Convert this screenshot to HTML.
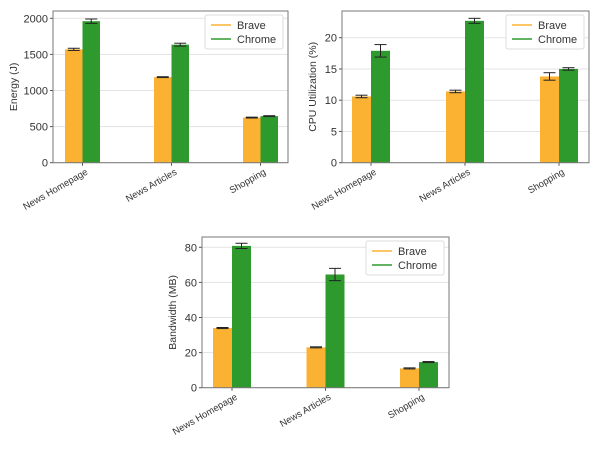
<!DOCTYPE html>
<html><head><meta charset="utf-8"><style>
html,body{margin:0;padding:0;background:#fff;width:600px;height:450px;overflow:hidden}
svg{position:absolute;left:0;top:0;font-family:"Liberation Sans",sans-serif}
</style></head><body>
<svg id="svg" width="600" height="450" viewBox="0 0 600 450"></svg>
<script>
const categories = ["News Homepage","News Articles","Shopping"];
const energyBrave = [1570,1185,625];
const energyChrome = [1960,1635,645];
const energyBraveErr = [15,6,6];
const energyChromeErr = [30,20,6];
const energyTicks = [0,500,1000,1500,2000];
const cpuBrave = [10.6,11.4,13.8];
const cpuChrome = [17.9,22.7,15.0];
const cpuBraveErr = [0.2,0.2,0.6];
const cpuChromeErr = [1.0,0.4,0.2];
const cpuTicks = [0,5,10,15,20];
const bwBrave = [34,23,11];
const bwChrome = [80.8,64.5,14.6];
const bwBraveErr = [0.3,0.3,0.3];
const bwChromeErr = [1.5,3.5,0.3];
const bwTicks = [0,20,40,60,80];
const seriesNames = ["Brave","Chrome"];

const NS="http://www.w3.org/2000/svg";
const svg=document.getElementById('svg');
function mk(tag,attrs,parent,text){const e=document.createElementNS(NS,tag);for(const k in attrs)e.setAttribute(k,attrs[k]);if(text!==undefined)e.textContent=text;parent.appendChild(e);return e;}
const COLORS=["#fbb232","#2e9a2e"];

function drawChart(cfg){
  const g=mk('g',{},svg);
  
  
  const {L,R,T,B,ymax}=cfg;
  const y=v=>B-(v/ymax)*(B-cfg.yTopRef);
  const groupX=i=>cfg.g0+i*cfg.gs;
  cfg.ticks.forEach(t=>{
    const yy=y(t);
    const gl=mk('line',{x1:L,x2:R,y1:yy,y2:yy,stroke:"#e3e3e3","stroke-width":1},g);
    
    
    mk('line',{x1:L-3,x2:L,y1:yy,y2:yy,stroke:"#555"},g);
    const tl=mk('text',{x:L-5,y:yy+4,"text-anchor":"end","font-size":11,fill:"#333"},g,String(t));
    
    
  });
  const series=[cfg.a,cfg.b], errs=[cfg.ae,cfg.be];
  categories.forEach((c,i)=>{
    series.forEach((s,j)=>{
      const x0=groupX(i)+j*cfg.bw;
      const r=mk('rect',{x:x0,y:y(s[i]),width:cfg.bw,height:B-y(s[i]),fill:COLORS[j]},g);
      
      
      const cx=x0+cfg.bw/2, e=errs[j][i];
      mk('line',{x1:cx,x2:cx,y1:y(s[i]+e),y2:y(s[i]-e),stroke:"#222","stroke-width":1},g);
      mk('line',{x1:cx-6,x2:cx+6,y1:y(s[i]+e),y2:y(s[i]+e),stroke:"#222","stroke-width":1},g);
      mk('line',{x1:cx-6,x2:cx+6,y1:y(s[i]-e),y2:y(s[i]-e),stroke:"#222","stroke-width":1},g);
    });
    const tx=groupX(i)+cfg.bw;
    mk('line',{x1:tx,x2:tx,y1:B,y2:B+3,stroke:"#555"},g);
    const lab=mk('text',{x:tx+6,y:B+11,"text-anchor":"end","font-size":9.5,fill:"#333",transform:`rotate(-30 ${tx+6} ${B+11})`},g,c);
    
    
  });
  mk('rect',{x:L,y:T,width:R-L,height:B-T,fill:"none",stroke:"#777","stroke-width":1},g);
  const yt=mk('text',{x:cfg.ytx,y:(T+B)/2,"text-anchor":"middle","font-size":10.5,fill:"#333",transform:`rotate(-90 ${cfg.ytx} ${(T+B)/2})`},g,cfg.ytitle);
  
  
  const lg=mk('g',{},g);
  
  
  const lx=R-83, ly=T+4;
  mk('rect',{x:lx,y:ly,width:78,height:34,fill:"#fff",stroke:"#ddd",rx:2},lg);
  seriesNames.forEach((n,j)=>{
    mk('line',{x1:lx+6,x2:lx+26,y1:ly+10+j*14,y2:ly+10+j*14,stroke:COLORS[j],"stroke-width":1.6},lg);
    const t=mk('text',{x:lx+32,y:ly+14+j*14,"font-size":11,fill:"#333"},lg,n);
    
    
  });
}
drawChart({name:"energy-chart",L:53,R:288,T:11,B:162.7,ymax:2000,yTopRef:18.3,g0:65,gs:89,bw:17.5,a:energyBrave,b:energyChrome,ae:energyBraveErr,be:energyChromeErr,ticks:energyTicks,ytitle:"Energy (J)",ytx:17});
drawChart({name:"cpu-chart",L:342,R:589,T:11,B:162.7,ymax:20,yTopRef:37.7,g0:352,gs:94,bw:19,a:cpuBrave,b:cpuChrome,ae:cpuBraveErr,be:cpuChromeErr,ticks:cpuTicks,ytitle:"CPU Utilization (%)",ytx:316});
drawChart({name:"bandwidth-chart",L:202,R:449,T:237,B:387.7,ymax:80,yTopRef:247.3,g0:213,gs:93.5,bw:19,a:bwBrave,b:bwChrome,ae:bwBraveErr,be:bwChromeErr,ticks:bwTicks,ytitle:"Bandwidth (MB)",ytx:176});
</script>
</body></html>
